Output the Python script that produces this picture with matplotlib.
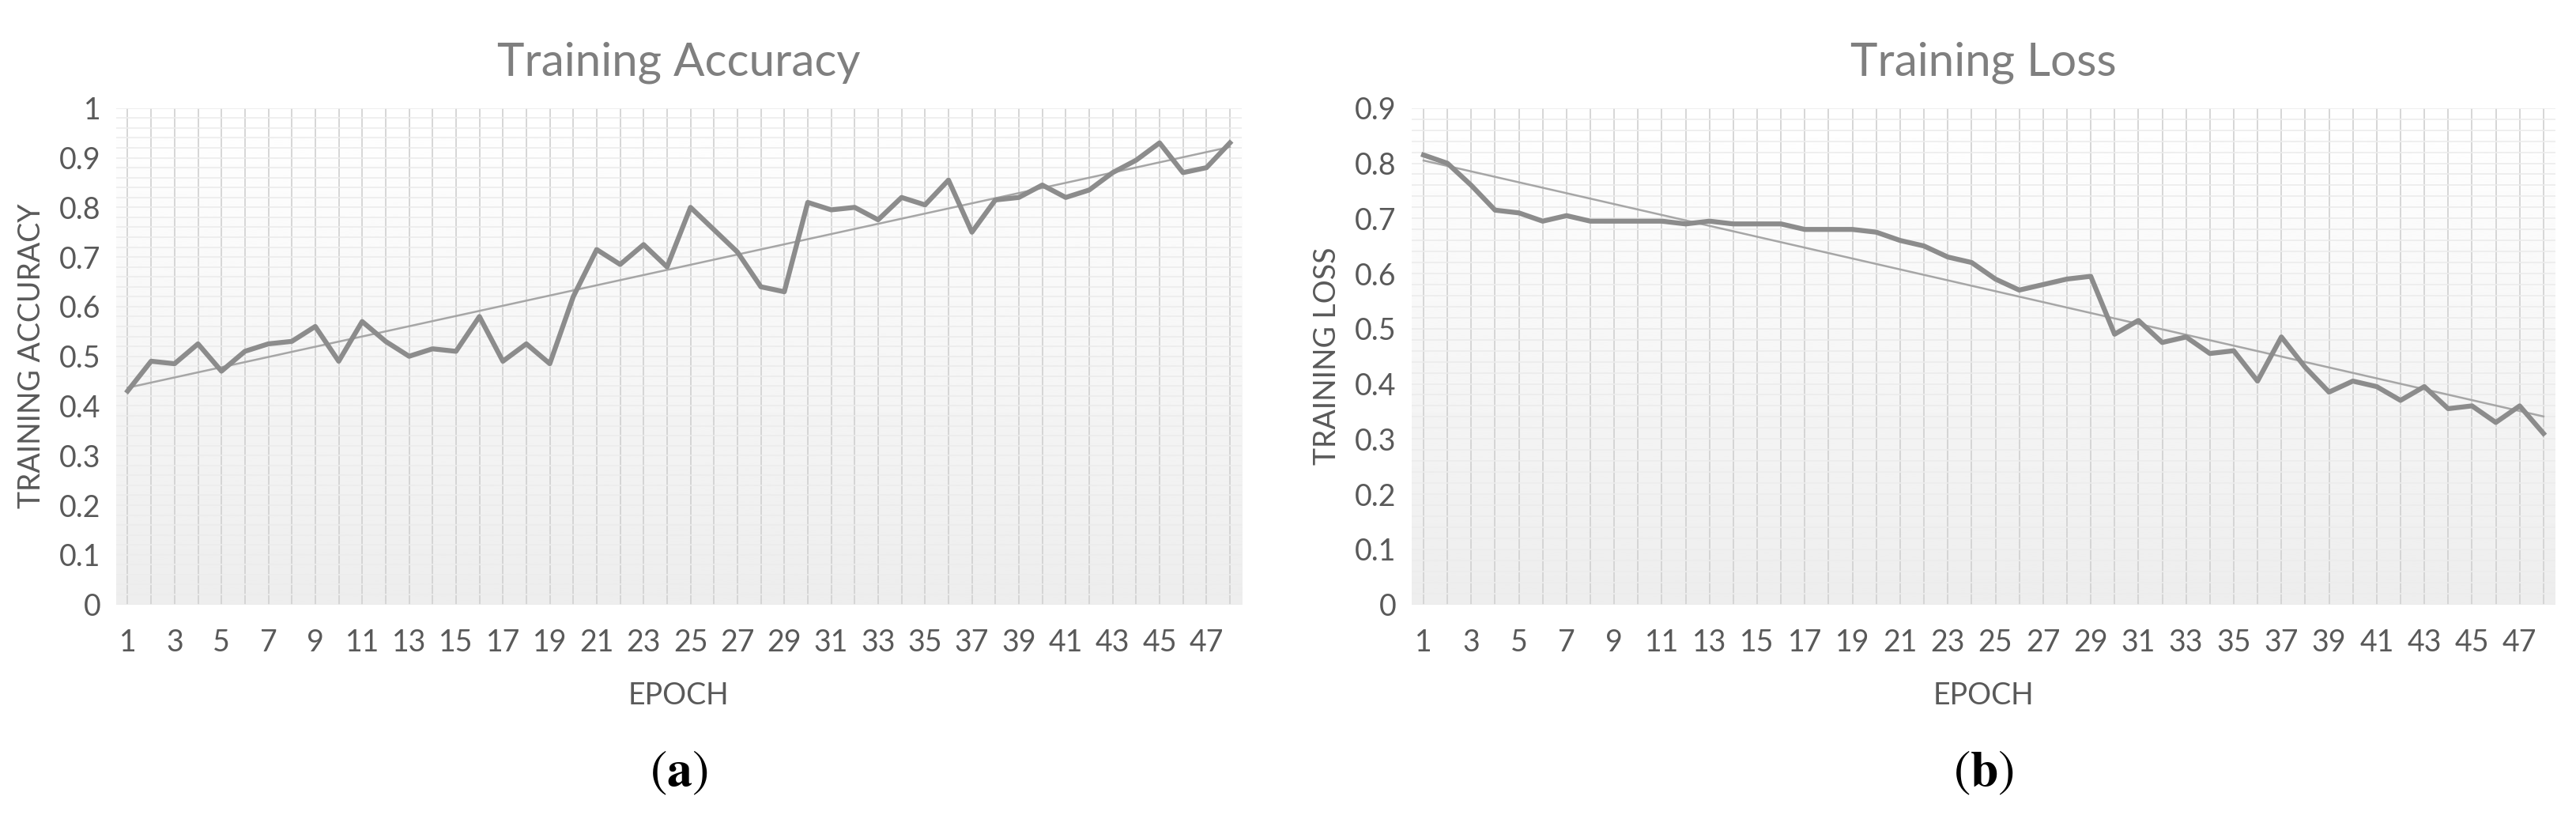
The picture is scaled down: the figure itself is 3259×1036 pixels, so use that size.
import numpy as np
import matplotlib
matplotlib.use("Agg")
import matplotlib.pyplot as plt

plt.rcParams['font.family'] = ['Lato', 'DejaVu Sans']
plt.rcParams['mathtext.fontset'] = 'stix'

epochs = np.arange(1, 49)
accuracy = [0.43, 0.49, 0.485, 0.525, 0.47, 0.51, 0.525, 0.53, 0.56, 0.49,
            0.57, 0.53, 0.50, 0.515, 0.51, 0.58, 0.49, 0.525, 0.485, 0.62,
            0.715, 0.685, 0.725, 0.68, 0.80, 0.755, 0.71, 0.64, 0.63, 0.81,
            0.795, 0.80, 0.775, 0.82, 0.805, 0.855, 0.75, 0.815, 0.82, 0.845,
            0.82, 0.835, 0.87, 0.895, 0.93, 0.87, 0.88, 0.93]
loss = [0.815, 0.80, 0.76, 0.715, 0.71, 0.695, 0.705, 0.695, 0.695, 0.695,
        0.695, 0.69, 0.695, 0.69, 0.69, 0.69, 0.68, 0.68, 0.68, 0.675,
        0.66, 0.65, 0.63, 0.62, 0.59, 0.57, 0.58, 0.59, 0.595, 0.49,
        0.515, 0.475, 0.485, 0.455, 0.46, 0.405, 0.485, 0.43, 0.385, 0.405,
        0.395, 0.37, 0.395, 0.355, 0.36, 0.33, 0.36, 0.31]

GREY = '#8c8c8c'
TXT = '#595959'

fig = plt.figure(figsize=(32.59, 10.36), dpi=100)


def draw(ax, y, ymax, title, ylabel, tag):
    # gradient background, white at top to light grey at bottom
    grad = np.linspace(1.0, 0.93, 256).reshape(-1, 1)
    ax.imshow(grad, cmap='gray', vmin=0, vmax=1, aspect='auto',
              extent=[0.5, 48.5, 0, ymax], zorder=0)
    for x in epochs:
        ax.axvline(x, color='#d0d0d0', lw=1.2, zorder=1)
    for h in np.arange(0, ymax + 1e-9, 0.02):
        ax.axhline(h, color='#ececec', lw=1.2, zorder=1)
    ax.plot(epochs, y, color=GREY, lw=4.5, zorder=3)
    m, c = np.polyfit(epochs, y, 1)
    ax.plot(epochs, m * epochs + c, color='#a6a6a6', lw=1.8, zorder=2)
    ax.set_xlim(0.5, 48.5)
    ax.set_ylim(0, ymax)
    ax.set_xticks(epochs[::2])
    yt = np.round(np.arange(0, ymax + 1e-9, 0.1), 1)
    ax.set_yticks(yt)
    ax.set_yticklabels([f'{v:g}' for v in yt])
    ax.tick_params(length=0, labelsize=27, colors=TXT)
    ax.tick_params(axis='x', pad=22)
    ax.tick_params(axis='y', pad=14)
    for s in ax.spines.values():
        s.set_visible(False)
    ax.set_title(title, fontsize=42, color='#7f7f7f', pad=30)
    ax.set_xlabel('EPOCH', fontsize=27, color=TXT, labelpad=22)
    ax.set_ylabel(ylabel, fontsize=27, color=TXT, labelpad=12)
    ax.text(0.5, -0.34, tag, transform=ax.transAxes, ha='center', va='center',
            fontsize=46, color='black')


ax1 = fig.add_axes([0.045, 0.262, 0.437, 0.606])
draw(ax1, accuracy, 1.0, 'Training Accuracy', 'TRAINING ACCURACY', r'$(\mathbf{a})$')
ax2 = fig.add_axes([0.548, 0.262, 0.444, 0.606])
draw(ax2, loss, 0.9, 'Training Loss', 'TRAINING LOSS', r'$(\mathbf{b})$')

fig.savefig('out.png', dpi=100, facecolor='white')
